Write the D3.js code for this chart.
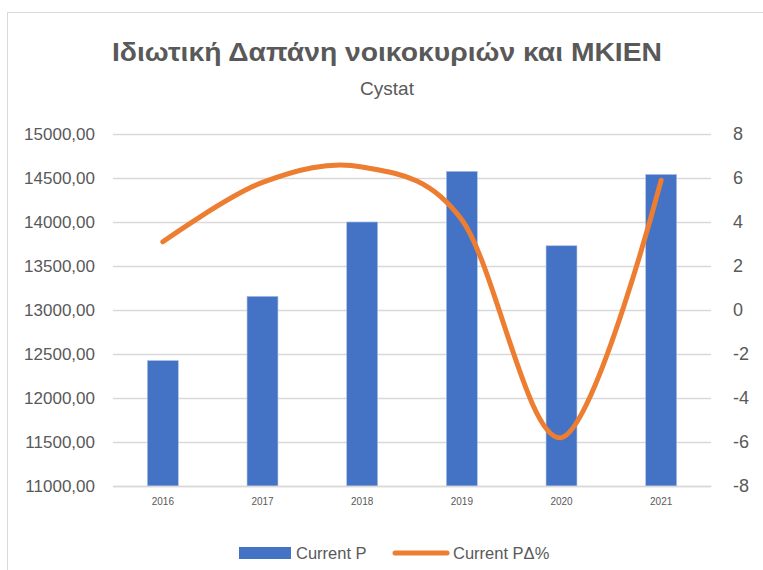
<!DOCTYPE html>
<html>
<head>
<meta charset="utf-8">
<script src="https://cdn.jsdelivr.net/npm/d3@7"></script>
<style>
  body { margin: 0; background: #fff; }
  text { font-family: "Liberation Sans", Arial, sans-serif; fill: #595959; }
</style>
</head>
<body>
<div id="chart"></div>
<script>
// data
var years = ["2016", "2017", "2018", "2019", "2020", "2021"];
var currentP = [12425, 13155, 14000, 14575, 13730, 14540];
var currentPchange = [3.1, 5.8, 6.5, 4.1, -5.8, 5.9];
var leftTicks = [11000, 11500, 12000, 12500, 13000, 13500, 14000, 14500, 15000];
var rightTicks = [-8, -6, -4, -2, 0, 2, 4, 6, 8];

var width = 763;
var height = 570;
var plot = { left: 113, right: 711, top: 134, bottom: 486 };

var svg = d3.select("#chart")
            .append("svg")
            .attr("width", width)
            .attr("height", height);

// chart area border
svg.append("rect")
   .attr("x", 7.5)
   .attr("y", 12.5)
   .attr("width", width)
   .attr("height", height)
   .attr("fill", "none")
   .attr("stroke", "#d9d9d9");

// title
svg.append("text")
   .attr("x", 387)
   .attr("y", 61)
   .attr("text-anchor", "middle")
   .attr("font-size", 25)
   .attr("font-weight", "bold")
   .attr("textLength", 550)
   .attr("lengthAdjust", "spacingAndGlyphs")
   .text("Ιδιωτική Δαπάνη νοικοκυριών και ΜΚΙΕΝ");

svg.append("text")
   .attr("x", 387)
   .attr("y", 95)
   .attr("text-anchor", "middle")
   .attr("font-size", 19)
   .text("Cystat");

// scales
var xScale = d3.scaleBand()
               .domain(years)
               .range([plot.left, plot.right])
               .paddingInner(0.69)
               .paddingOuter(0.345);

var yLeft = d3.scaleLinear()
              .domain([11000, 15000])
              .range([plot.bottom, plot.top]);

var yRight = d3.scaleLinear()
               .domain([-8, 8])
               .range([plot.bottom, plot.top]);

// gridlines
svg.append("g")
   .selectAll("line")
   .data(leftTicks)
   .enter()
   .append("line")
   .attr("x1", plot.left)
   .attr("x2", plot.right)
   .attr("y1", d => Math.round(yLeft(d)) + 0.5)
   .attr("y2", d => Math.round(yLeft(d)) + 0.5)
   .attr("stroke", "#d9d9d9")
   .attr("stroke-width", 1.3);

// left axis
var leftAxis = d3.axisLeft(yLeft)
                 .tickValues(leftTicks)
                 .tickSize(0)
                 .tickPadding(18)
                 .tickFormat(d => d3.format(".2f")(d).replace(".", ","));

svg.append("g")
   .attr("transform", `translate(${plot.left}, 0)`)
   .call(leftAxis)
   .call(g => g.select(".domain").remove())
   .selectAll("text")
   .attr("font-size", 17)
   .attr("font-family", null)
   .attr("fill", "#595959");

// right axis
var rightAxis = d3.axisRight(yRight)
                  .tickValues(rightTicks)
                  .tickSize(0)
                  .tickPadding(22)
                  .tickFormat(d => d < 0 ? "-" + Math.abs(d) : d);

svg.append("g")
   .attr("transform", `translate(${plot.right}, 0)`)
   .call(rightAxis)
   .call(g => g.select(".domain").remove())
   .selectAll("text")
   .attr("font-size", 18)
   .attr("font-family", null)
   .attr("fill", "#595959");

// bars
svg.append("g")
   .selectAll("rect")
   .data(currentP)
   .enter()
   .append("rect")
   .attr("x", (d, i) => xScale(years[i]))
   .attr("y", d => yLeft(d))
   .attr("width", xScale.bandwidth())
   .attr("height", d => yLeft(11000) - yLeft(d))
   .attr("fill", "#4472c4")
   .attr("stroke", "#a9bfe6")
   .attr("stroke-width", 0.6);

// x axis
var xAxis = d3.axisBottom(xScale)
              .tickSize(0)
              .tickPadding(12);

svg.append("g")
   .attr("transform", `translate(0, ${plot.bottom})`)
   .call(xAxis)
   .call(g => g.select(".domain").attr("stroke", "#d9d9d9").attr("stroke-width", 1.5))
   .selectAll("text")
   .attr("font-size", 10)
   .attr("font-family", null)
   .attr("fill", "#595959");

// smoothed line
var line = d3.line()
             .x((d, i) => xScale(years[i]) + xScale.bandwidth() / 2)
             .y(d => yRight(d))
             .curve(d3.curveCardinal.tension(0));

svg.append("path")
   .datum(currentPchange)
   .attr("d", line)
   .attr("fill", "none")
   .attr("stroke", "#ed7d31")
   .attr("stroke-width", 5)
   .attr("stroke-linecap", "round");

// legend
var legend = svg.append("g");

legend.append("rect")
      .attr("x", 239)
      .attr("y", 547)
      .attr("width", 52)
      .attr("height", 12)
      .attr("fill", "#4472c4");

legend.append("text")
      .attr("x", 296)
      .attr("y", 559)
      .attr("font-size", 16.5)
      .text("Current P");

legend.append("line")
      .attr("x1", 395)
      .attr("x2", 447)
      .attr("y1", 553)
      .attr("y2", 553)
      .attr("stroke", "#ed7d31")
      .attr("stroke-width", 5)
      .attr("stroke-linecap", "round");

legend.append("text")
      .attr("x", 453)
      .attr("y", 559)
      .attr("font-size", 16.5)
      .text("Current PΔ%");
</script>
</body>
</html>
